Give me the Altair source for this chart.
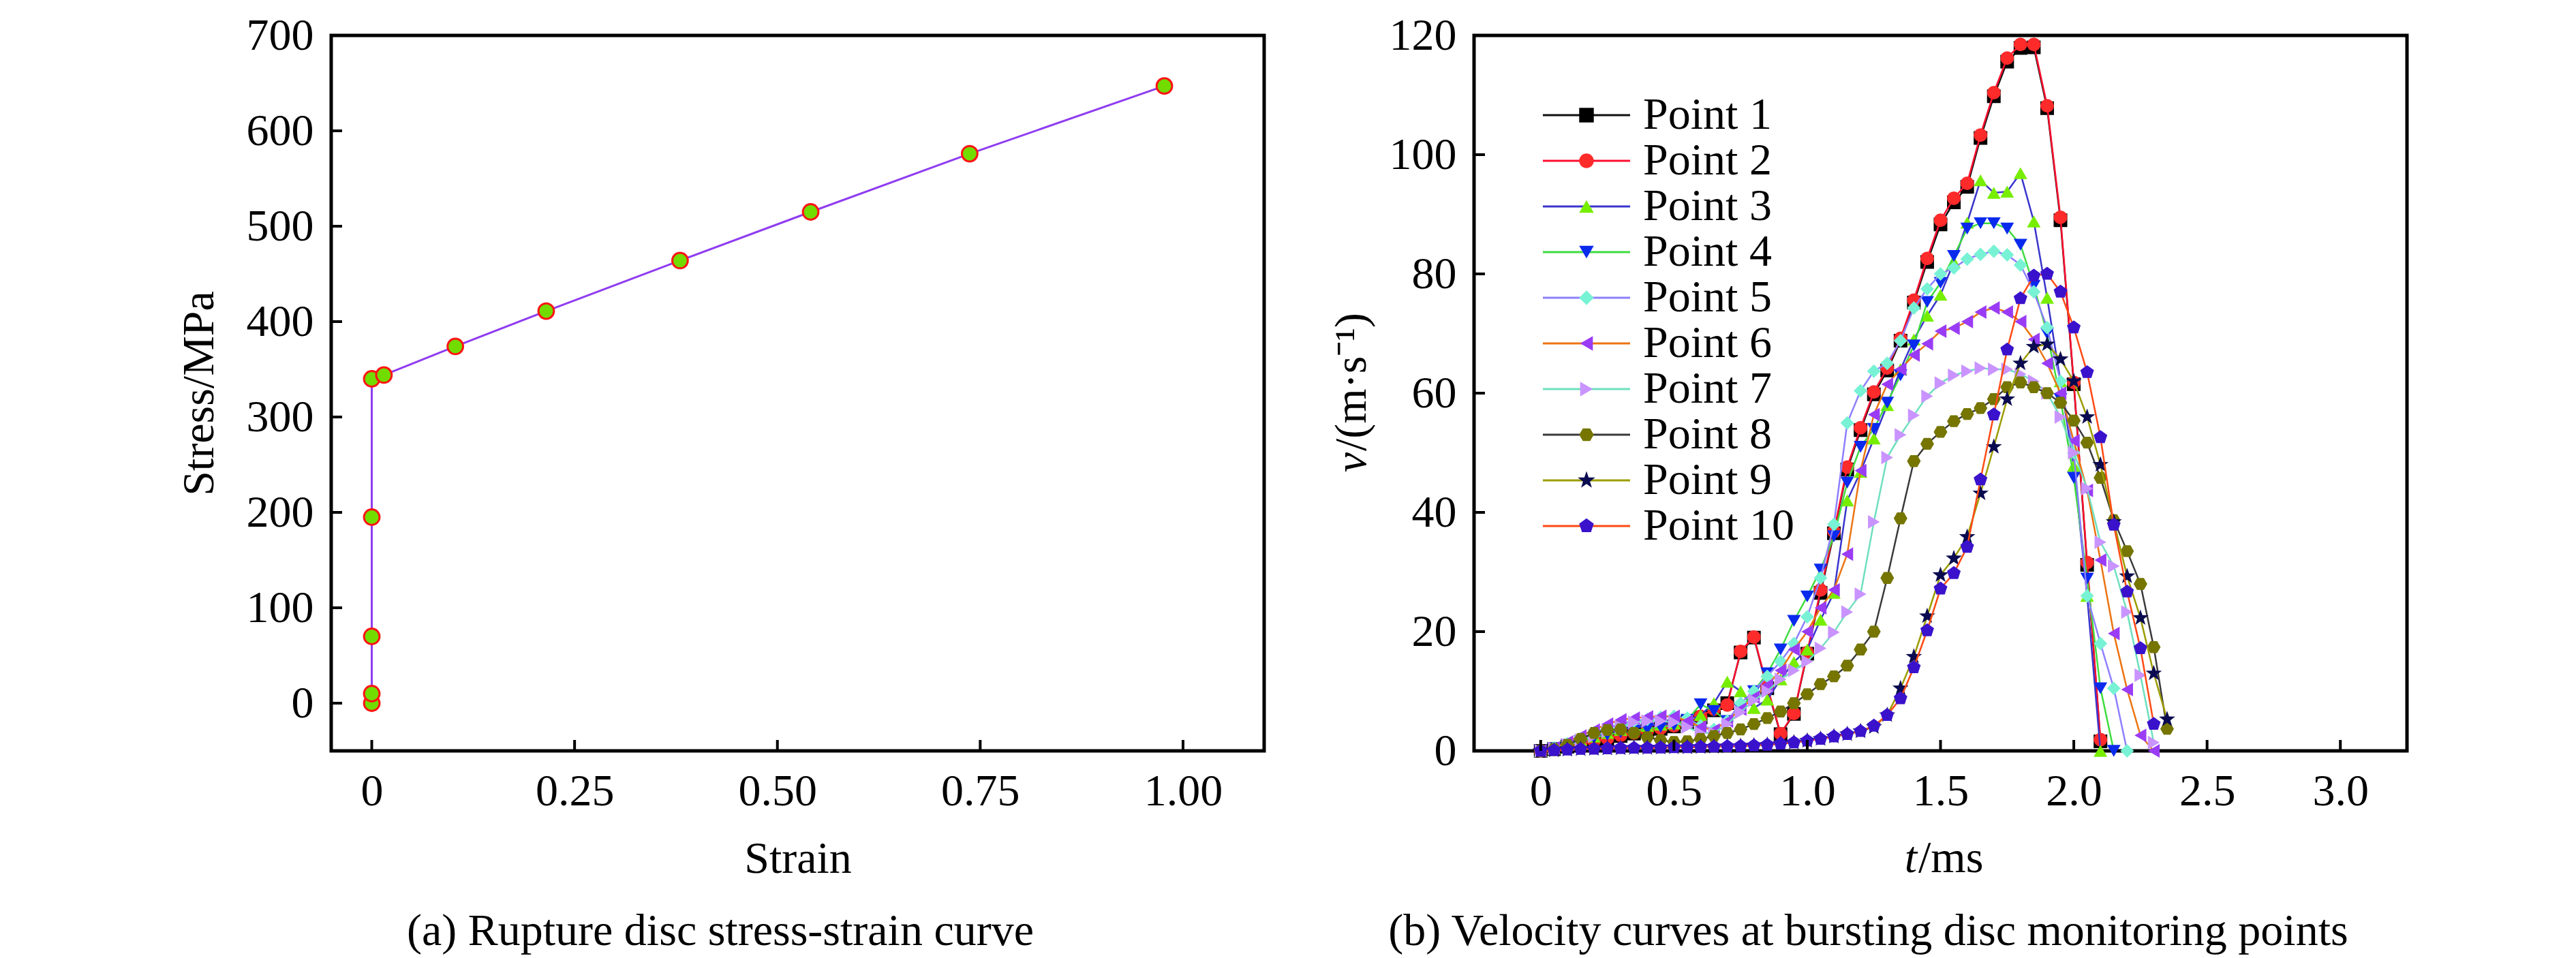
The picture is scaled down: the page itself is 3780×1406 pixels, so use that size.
import math
import altair as alt
import pandas as pd

# ---- (a) rupture disc stress-strain curve ----
strain = [0, 0, 0, 0, 0, 0.015, 0.103, 0.215, 0.380, 0.541, 0.737, 0.977]
stress = [0, 10, 70, 195, 340, 344, 374, 411, 464, 515, 576, 647]
strain_ticks = [0, 0.25, 0.5, 0.75, 1.0]
stress_ticks = [0, 100, 200, 300, 400, 500, 600, 700]

# ---- (b) velocity at the monitoring points, t in ms, v in m/s ----
t_ms = [0.00, 0.05, 0.10, 0.15, 0.20, 0.25, 0.30, 0.35, 0.40, 0.45,
        0.50, 0.55, 0.60, 0.65, 0.70, 0.75, 0.80, 0.85, 0.90, 0.95,
        1.00, 1.05, 1.10, 1.15, 1.20, 1.25, 1.30, 1.35, 1.40, 1.45,
        1.50, 1.55, 1.60, 1.65, 1.70, 1.75, 1.80, 1.85, 1.90, 1.95,
        2.00, 2.05, 2.10, 2.15, 2.20, 2.25, 2.30, 2.35, 2.40]

point1 = [0, 0.3, 0.7, 1.1, 1.6, 2.0, 2.5, 2.9, 3.3, 3.7, 4.1, 4.8, 5.6, 6.8, 8.0, 16.5, 19.0, 10.5, 2.8, 6.2,
          16.3, 26.5, 36.5, 47.2, 53.8, 59.8, 63.8, 68.8, 75.2, 82.0, 88.3, 92.0, 94.6, 102.8, 109.8, 115.6,
          117.9, 118.0, 107.8, 89.0, 61.5, 31.2, 1.6]
point2 = [0, 0.3, 0.7, 1.2, 1.7, 2.1, 2.6, 3.0, 3.4, 3.8, 4.2, 4.9, 5.8, 7.0, 7.7, 16.7, 19.1, 10.8, 2.9, 6.3,
          16.5, 27.0, 36.8, 47.6, 54.2, 60.2, 64.2, 69.2, 75.6, 82.6, 89.0, 92.7, 95.2, 103.3, 110.4, 116.2,
          118.5, 118.5, 108.2, 89.5, 61.8, 31.6, 1.9]
point3 = [0, 0.4, 1.0, 1.7, 2.4, 3.0, 3.5, 3.9, 4.2, 4.4, 4.6, 5.0, 6.0, 8.0, 11.6, 10.0, 7.2, 8.6, 12.0, 14.9,
          17.0, 22.0, 26.5, 42.0, 46.8, 52.4, 58.0, 64.0, 69.0, 73.0, 76.5, 82.0, 88.6, 95.7, 93.6, 93.8,
          96.9, 88.8, 76.0, 62.0, 47.8, 26.0, 0.0]
point4 = [0, 0.4, 1.0, 1.6, 2.2, 2.7, 3.1, 3.4, 3.7, 4.0, 4.3, 5.2, 7.8, 6.7, 5.0, 7.0, 10.0, 13.0, 17.0, 21.8,
          25.9, 30.4, 36.0, 45.0, 51.0, 54.0, 58.4, 63.0, 68.0, 75.3, 78.5, 83.0, 87.6, 88.5, 88.5, 87.6,
          84.9, 78.0, 70.0, 59.0, 45.8, 28.9, 10.5, 0.0]
point5 = [0, 0.5, 1.2, 2.0, 3.0, 3.8, 4.5, 5.0, 5.3, 5.6, 5.8, 5.5, 4.2, 3.6, 5.0, 8.0, 10.0, 12.5, 15.0, 18.0,
          22.5, 29.0, 38.0, 55.0, 60.4, 63.7, 65.0, 68.8, 74.3, 77.5, 80.0, 81.0, 82.5, 83.3, 83.8, 83.2,
          81.5, 77.0, 71.0, 62.0, 50.0, 26.0, 18.0, 10.5, 0.0]
point6 = [0, 0.5, 1.5, 2.5, 3.5, 4.5, 5.2, 5.5, 5.7, 5.8, 5.8, 5.0, 4.0, 3.5, 5.0, 7.0, 9.0, 11.0, 13.5, 17.0,
          20.0, 24.0, 27.0, 33.0, 47.0, 56.4, 61.5, 64.0, 66.4, 68.3, 70.4, 70.9, 72.0, 73.6, 74.3, 73.6,
          72.0, 69.0, 65.0, 60.0, 52.0, 43.7, 32.0, 19.7, 10.3, 2.6, 0.0]
point7 = [0, 0.4, 1.0, 1.8, 2.5, 3.3, 4.0, 4.8, 5.0, 5.0, 4.8, 4.0, 3.0, 3.0, 4.5, 6.5, 8.5, 10.0, 12.0, 13.5,
          15.0, 17.2, 19.9, 23.3, 26.3, 38.4, 49.2, 53.0, 56.3, 59.5, 61.7, 63.0, 63.7, 64.2, 64.0, 64.0,
          63.2, 62.0, 60.0, 56.0, 50.0, 44.0, 35.0, 31.0, 23.3, 12.7, 1.4]
point8 = [0, 0.3, 1.0, 2.0, 3.0, 3.5, 3.6, 3.0, 2.3, 1.8, 1.5, 1.6, 2.0, 2.5, 3.0, 3.6, 4.5, 5.5, 6.6, 8.0,
          9.5, 11.2, 12.5, 14.3, 17.0, 20.0, 29.0, 39.0, 48.6, 51.5, 53.5, 55.3, 56.5, 57.5, 59.0, 61.0,
          61.8, 61.0, 60.0, 58.4, 55.4, 51.7, 45.8, 38.7, 33.5, 28.0, 17.4, 3.7]
point9 = [0, 0.1, 0.2, 0.3, 0.35, 0.4, 0.45, 0.5, 0.5, 0.55, 0.6, 0.6, 0.65, 0.7, 0.75, 0.8, 0.9, 1.0, 1.2, 1.4,
          1.7, 2.0, 2.4, 2.8, 3.3, 4.0, 6.0, 10.5, 15.8, 22.6, 29.5, 32.3, 35.9, 43.2, 51.0, 59.0,
          65.0, 67.8, 68.2, 65.7, 62.0, 56.0, 48.0, 38.4, 29.3, 22.3, 13.0, 5.3]
point10 = [0, 0.1, 0.2, 0.3, 0.35, 0.4, 0.45, 0.5, 0.5, 0.55, 0.6, 0.6, 0.65, 0.7, 0.75, 0.8, 0.9, 1.0, 1.2, 1.4,
           1.7, 2.0, 2.4, 2.8, 3.3, 4.2, 6.0, 8.8, 14.0, 20.2, 27.2, 29.8, 34.2, 45.5, 56.4, 67.3,
           75.9, 79.7, 80.0, 77.0, 71.0, 63.5, 52.6, 37.9, 26.7, 17.2, 4.5]

series = [point1, point2, point3, point4, point5, point6, point7, point8, point9, point10]
names = ['Point %d' % (i + 1) for i in range(10)]
time_ticks = [0, 0.5, 1.0, 1.5, 2.0, 2.5, 3.0]
vel_ticks = [0, 20, 40, 60, 80, 100, 120]

line_colors = ['#111111', '#ff1030', '#3a35cc', '#3fdc3f', '#8c80ff',
               '#ec7412', '#6fdfbf', '#3a3a3a', '#9c9c00', '#ff4a14']
marker_colors = ['#000000', '#ff2a2a', '#77ee00', '#0a2aee', '#78f2d4',
                 '#9a3cf5', '#c994ff', '#757500', '#0a0a50', '#3a12cc']


def polygon(n, r_out, r_in=None, rot=-90):
    k = 2 * n if r_in else n
    pts = []
    for i in range(k):
        r = r_out if (r_in is None or i % 2 == 0) else r_in
        a = math.radians(rot + 360.0 * i / k)
        pts.append('%.3f,%.3f' % (r * math.cos(a), r * math.sin(a)))
    return 'M' + 'L'.join(pts) + 'Z'


shapes = ['square', 'circle', 'triangle-up', 'triangle-down', 'diamond',
          'triangle-left', 'triangle-right', polygon(6, 1.0, rot=0),
          polygon(5, 1.25, 0.5), polygon(5, 1.05)]

W, H = 1369, 1050
FONT = 'Liberation Serif'
FS = 66
TICK = 16

# ---------------- panel (a) ----------------
df_a = pd.DataFrame({'strain': strain, 'stress': stress, 'idx': range(len(strain))})

xa = alt.X('strain:Q', scale=alt.Scale(domain=[-0.05, 1.10], nice=False, zero=False),
           axis=alt.Axis(values=strain_ticks, labelExpr="datum.value == 0 ? '0' : format(datum.value, '.2f')",
                         labelPadding=59, labelBaseline='middle', title='Strain',
                         titleY=158, titleBaseline='middle'))
ya = alt.Y('stress:Q', scale=alt.Scale(domain=[-50, 700], nice=False, zero=False),
           axis=alt.Axis(values=stress_ticks, labelPadding=26, title='Stress/MPa',
                         titleX=-194, titleBaseline='middle'))

line_a = alt.Chart(df_a).mark_line(color='#8f3cf0', strokeWidth=3).encode(x=xa, y=ya, order='idx:Q')
dots_a = alt.Chart(df_a).mark_point(shape='circle', filled=True, fill='#72dc00', stroke='#ff1414',
                                    strokeWidth=3, size=520, opacity=1).encode(x=xa, y=ya)
ytick_a = alt.Chart(pd.DataFrame({'stress': stress_ticks})).mark_rule(color='black', strokeWidth=4).encode(
    y='stress:Q', x=alt.value(0), x2=alt.value(TICK))
xtick_a = alt.Chart(pd.DataFrame({'strain': strain_ticks})).mark_rule(color='black', strokeWidth=4).encode(
    x='strain:Q', y=alt.value(H), y2=alt.value(H - TICK))

left = alt.layer(line_a, dots_a, ytick_a, xtick_a).properties(
    width=W, height=H,
    title=alt.TitleParams('(a) Rupture disc stress-strain curve', orient='bottom', anchor='middle',
                          frame='bounds', offset=42))

# ---------------- panel (b) ----------------
xb = alt.X('t:Q', scale=alt.Scale(domain=[-0.25, 3.25], nice=False, zero=False),
           axis=alt.Axis(values=time_ticks, labelExpr="datum.value == 0 ? '0' : format(datum.value, '.1f')",
                         labelPadding=59, labelBaseline='middle', title=None))
yb = alt.Y('v:Q', scale=alt.Scale(domain=[0, 120], nice=False),
           axis=alt.Axis(values=vel_ticks, labelPadding=26, title=None))

layers = []
for i, vals in enumerate(series):
    d = pd.DataFrame({'t': t_ms[:len(vals)], 'v': vals})
    layers.append(alt.Chart(d).mark_line(color=line_colors[i], strokeWidth=2.5).encode(x=xb, y=yb))
    layers.append(alt.Chart(d).mark_point(shape=shapes[i], filled=True, color=marker_colors[i],
                                          size=400, opacity=1, strokeWidth=0).encode(x=xb, y=yb))

ytick_b = alt.Chart(pd.DataFrame({'v': vel_ticks})).mark_rule(color='black', strokeWidth=4).encode(
    y='v:Q', x=alt.value(0), x2=alt.value(TICK))
xtick_b = alt.Chart(pd.DataFrame({'t': time_ticks})).mark_rule(color='black', strokeWidth=4).encode(
    x='t:Q', y=alt.value(H), y2=alt.value(H - TICK))

# legend drawn by hand: line colour and marker colour differ per entry
leg = pd.DataFrame({'name': names, 'row': range(10)})
leg['v'] = 120 - (117 + 67 * leg['row']) / (H / 120.0)
leg_line = alt.Chart(leg).mark_rule(strokeWidth=3).encode(
    y=yb, x=alt.value(101), x2=alt.value(229),
    color=alt.Color('name:N', scale=alt.Scale(domain=names, range=line_colors), legend=None))
leg_mark = alt.Chart(leg).mark_point(filled=True, size=460, opacity=1, strokeWidth=0).encode(
    y=yb, x=alt.value(165),
    fill=alt.Fill('name:N', scale=alt.Scale(domain=names, range=marker_colors), legend=None),
    shape=alt.Shape('name:N', scale=alt.Scale(domain=names, range=shapes), legend=None))
leg_text = alt.Chart(leg).mark_text(align='left', baseline='middle', font=FONT, fontSize=FS,
                                    color='black').encode(y=yb, x=alt.value(248), text='name:N')

# axis titles with italic symbols
one = pd.DataFrame({'k': [0]})
tt_t = alt.Chart(one).mark_text(text='t', font=FONT, fontSize=FS, fontStyle='italic', align='right',
                                baseline='middle', color='black').encode(x=alt.value(650), y=alt.value(H + 158))
tt_ms = alt.Chart(one).mark_text(text='/ms', font=FONT, fontSize=FS, align='left',
                                 baseline='middle', color='black').encode(x=alt.value(652), y=alt.value(H + 158))
yt_v = alt.Chart(one).mark_text(text='v', font=FONT, fontSize=FS, fontStyle='italic', angle=270,
                                align='right', baseline='middle', color='black').encode(
    x=alt.value(-179), y=alt.value(612))
yt_unit = alt.Chart(one).mark_text(text='/(m\u00b7s\u207b\u00b9)', font=FONT, fontSize=FS, angle=270,
                                   align='left', baseline='middle', color='black').encode(
    x=alt.value(-179), y=alt.value(610))

right = alt.layer(*layers, ytick_b, xtick_b, leg_line, leg_mark, leg_text,
                  tt_t, tt_ms, yt_v, yt_unit).properties(
    width=W, height=H,
    title=alt.TitleParams('(b) Velocity curves at bursting disc monitoring points', orient='bottom',
                          anchor='middle', frame='bounds', offset=42))

chart = alt.hconcat(left, right, spacing=90).properties(
    padding={'left': 248, 'top': 8, 'right': 10, 'bottom': 0}
).configure_view(
    stroke='black', strokeWidth=5
).configure_axis(
    labelFont=FONT, labelFontSize=FS, labelColor='black', labelOverlap=False,
    titleFont=FONT, titleFontSize=FS, titleFontWeight='normal', titleColor='black',
    grid=False, domain=False, ticks=False, tickSize=0
).configure_title(
    font=FONT, fontSize=FS, fontWeight='normal', color='black'
)

chart.save('out.html', embed_options={'renderer': 'svg', 'actions': False})
